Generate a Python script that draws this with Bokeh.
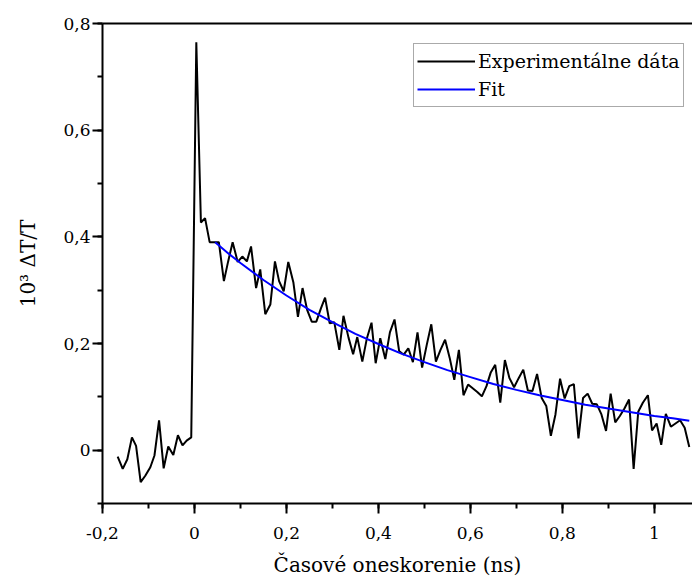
from bokeh.plotting import figure
from bokeh.models import Range1d, SingleIntervalTicker, LinearAxis, FixedTicker, CustomJSTickFormatter
from bokeh.embed import file_html
from bokeh.resources import INLINE

# Experimental data (time in ns, 10^3 dT/T)
t_exp = [-0.167, -0.156, -0.146, -0.136, -0.127, -0.117, -0.107, -0.096, -0.087, -0.077,
         -0.067, -0.057, -0.046, -0.036, -0.026, -0.017, -0.007, 0.004,
         0.014, 0.023, 0.033, 0.043, 0.053, 0.064, 0.073, 0.083, 0.094, 0.104,
         0.114, 0.123, 0.134, 0.143, 0.154, 0.165, 0.175, 0.184, 0.194, 0.204,
         0.215, 0.225, 0.235, 0.245, 0.255, 0.265, 0.275, 0.284, 0.294, 0.304,
         0.315, 0.324, 0.335, 0.345, 0.354, 0.365, 0.375, 0.385, 0.394, 0.404,
         0.415, 0.425, 0.435, 0.445, 0.455, 0.465, 0.475, 0.485, 0.495, 0.505,
         0.515, 0.525, 0.535, 0.545, 0.555, 0.565, 0.575, 0.585, 0.595, 0.605,
         0.615, 0.625, 0.635, 0.644, 0.654, 0.665, 0.675, 0.685, 0.695, 0.705,
         0.715, 0.725, 0.735, 0.745, 0.755, 0.765, 0.775, 0.785, 0.795, 0.805,
         0.815, 0.825, 0.835, 0.845, 0.855, 0.865, 0.875, 0.885, 0.895, 0.905,
         0.915, 0.925, 0.935, 0.945, 0.955, 0.965, 0.975, 0.986, 0.995, 1.005,
         1.015, 1.025, 1.036, 1.046, 1.056, 1.066, 1.076]
y_exp = [-0.012, -0.035, -0.017, 0.024, 0.008, -0.060, -0.048, -0.032, -0.010, 0.056,
         -0.034, 0.007, -0.009, 0.028, 0.009, 0.018, 0.024, 0.765,
         0.427, 0.435, 0.390, 0.390, 0.390, 0.317, 0.353, 0.390, 0.353, 0.363,
         0.354, 0.382, 0.304, 0.339, 0.255, 0.273, 0.354, 0.317, 0.298, 0.353,
         0.315, 0.250, 0.304, 0.263, 0.241, 0.241, 0.266, 0.286, 0.238, 0.240,
         0.188, 0.252, 0.211, 0.180, 0.212, 0.166, 0.210, 0.239, 0.163, 0.210,
         0.171, 0.221, 0.245, 0.186, 0.179, 0.191, 0.165, 0.221, 0.155, 0.197,
         0.236, 0.166, 0.188, 0.207, 0.173, 0.132, 0.188, 0.103, 0.123, 0.116,
         0.109, 0.101, 0.120, 0.145, 0.160, 0.089, 0.169, 0.135, 0.118, 0.135,
         0.151, 0.112, 0.111, 0.143, 0.098, 0.083, 0.027, 0.067, 0.134, 0.097,
         0.120, 0.124, 0.022, 0.098, 0.106, 0.087, 0.086, 0.067, 0.036, 0.106,
         0.052, 0.064, 0.078, 0.095, -0.035, 0.072, 0.089, 0.103, 0.037, 0.050,
         0.010, 0.068, 0.044, 0.050, 0.056, 0.042, 0.006]

# Fit curve
t_fit = [0.045, 0.075, 0.1, 0.15, 0.2, 0.25, 0.3, 0.35, 0.4, 0.45, 0.5, 0.55, 0.6,
         0.65, 0.7, 0.75, 0.8, 0.85, 0.9, 0.95, 1.0, 1.04, 1.076]
y_fit = [0.390, 0.368, 0.351, 0.319, 0.290, 0.263, 0.240, 0.218, 0.199, 0.181, 0.165,
         0.150, 0.137, 0.124, 0.113, 0.103, 0.094, 0.085, 0.078, 0.071, 0.064,
         0.060, 0.055]

x_label = "Časové oneskorenie (ns)"
y_label = "10³ ΔT/T"
series_names = ["Experimentálne dáta", "Fit"]

FONT = "DejaVu Serif"

p = figure(width=692, height=579, output_backend="svg", toolbar_location=None,
           x_range=Range1d(-0.2, 1.083), y_range=Range1d(-0.1, 0.8),
           min_border_left=102, min_border_right=0, min_border_top=23, min_border_bottom=73)
p.outline_line_color = None
p.grid.grid_line_color = None
p.background_fill_color = "white"
p.border_fill_color = "white"

fmt = CustomJSTickFormatter(code="""
const v = Math.round(tick * 10) / 10;
if (Math.abs(v) < 1e-9) return '0';
if (Number.isInteger(v)) return v.toString();
return v.toFixed(1).replace('.', ',');
""")

p.xaxis.ticker = SingleIntervalTicker(interval=0.2, num_minor_ticks=2)
p.yaxis.ticker = SingleIntervalTicker(interval=0.2, num_minor_ticks=2)
for ax in (p.xaxis[0], p.yaxis[0]):
    ax.formatter = fmt
    ax.axis_line_width = 2
    ax.axis_line_color = "black"
    ax.major_tick_line_width = 2
    ax.minor_tick_line_width = 2
    ax.major_tick_in = 0
    ax.major_tick_out = 10
    ax.minor_tick_in = 0
    ax.minor_tick_out = 5
    ax.major_label_text_font = FONT
    ax.major_label_text_font_size = "17px"
    ax.major_label_text_color = "black"
    ax.axis_label_text_font = FONT
    ax.axis_label_text_font_size = "20px"
    ax.axis_label_text_font_style = "normal"
    ax.axis_label_text_color = "black"

p.xaxis.axis_label = x_label
p.yaxis.axis_label = y_label
p.xaxis.major_label_standoff = 13
p.xaxis.axis_label_standoff = 11
p.yaxis.major_label_standoff = 2
p.yaxis.axis_label_standoff = 20

top = LinearAxis(ticker=FixedTicker(ticks=[]), axis_line_width=2, axis_line_color="black",
                 major_tick_out=0, minor_tick_out=0)
p.add_layout(top, "above")

p.line(t_exp, y_exp, line_color="black", line_width=2, legend_label=series_names[0])
p.line(t_fit, y_fit, line_color="#0000ff", line_width=2, legend_label=series_names[1])

lg = p.legend[0]
lg.location = (311, 396)
lg.label_text_font = FONT
lg.label_text_font_size = "19px"
lg.label_text_color = "black"
lg.glyph_width = 58
lg.glyph_height = 28
lg.label_height = 28
lg.label_standoff = 3
lg.spacing = 0
lg.padding = 3
lg.margin = 0
lg.border_line_color = "#555555"
lg.border_line_width = 1
lg.background_fill_color = "white"
lg.background_fill_alpha = 1

open("out.html", "w").write(file_html(p, INLINE))
